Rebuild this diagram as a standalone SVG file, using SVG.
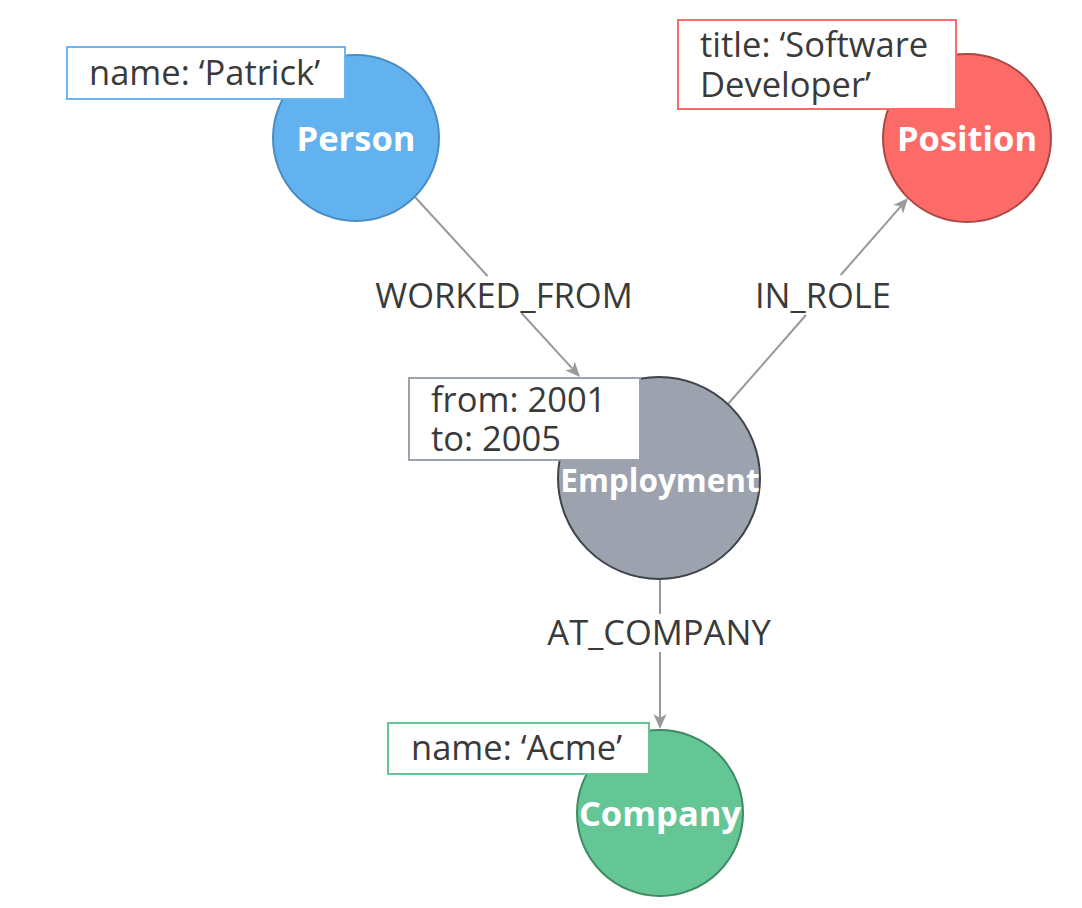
<svg xmlns="http://www.w3.org/2000/svg" width="1082" height="908" viewBox="0 0 1082 908">
<defs>
<marker id="arr" markerUnits="userSpaceOnUse" viewBox="-16 -8 17 16" markerWidth="17" markerHeight="16" refX="-11" refY="0" orient="auto">
<path d="M0,0 L-15,-6.5 L-11,0 L-15,6.5 Z" fill="#999999"/>
</marker>
</defs>
<style>
.edge{stroke:#999999;stroke-width:2;fill:none}
.elabel{font-family:"Open Sans","Noto Sans",sans-serif;font-size:34.5px;fill:#3a3a3a;text-anchor:middle}
.prop{font-family:"Open Sans","Noto Sans",sans-serif;font-size:34.5px;fill:#3a3a3a}
.nlabel{font-family:"Open Sans","Noto Sans",sans-serif;font-size:34.5px;font-weight:bold;fill:#ffffff;text-anchor:middle}
.box{fill:#ffffff;stroke-width:2}
</style>
<rect width="1082" height="908" fill="#ffffff"/>
<g id="connectors">
<g id="e-worked-from">
<line class="edge" x1="415" y1="197" x2="487.5" y2="276"/>
<line class="edge" x1="521.5" y1="313" x2="572.6" y2="368.9" marker-end="url(#arr)"/>
<text class="elabel" x="504" y="308">WORKED_FROM</text>
</g>
<g id="e-in-role">
<line class="edge" x1="728" y1="404" x2="806" y2="315"/>
<line class="edge" x1="840.7" y1="275" x2="900.8" y2="206.3" marker-end="url(#arr)"/>
<text class="elabel" x="823" y="308">IN_ROLE</text>
</g>
<g id="e-at-company">
<line class="edge" x1="660" y1="580" x2="660" y2="614"/>
<line class="edge" x1="660" y1="652" x2="660" y2="718" marker-end="url(#arr)"/>
<text class="elabel" x="659" y="645">AT_COMPANY</text>
</g>
</g>
<g id="person">
<circle cx="356" cy="138" r="83" fill="#62b2ef" stroke="#4a8cc4" stroke-width="2"/>
<text class="nlabel" x="356" y="151">Person</text>
<rect class="box" x="67" y="47" width="278" height="52" stroke="#6ab6f0"/>
<text class="prop" x="89" y="85">name: ‘Patrick’</text>
</g>
<g id="position">
<circle cx="967" cy="138" r="84" fill="#fd6b68" stroke="#ab4846" stroke-width="2"/>
<text class="nlabel" x="967" y="151">Position</text>
<rect class="box" x="678" y="20" width="278" height="89" stroke="#fd6b68"/>
<text class="prop" x="700" y="57">title: ‘Software</text>
<text class="prop" x="700" y="97">Developer’</text>
</g>
<g id="employment">
<circle cx="659" cy="478" r="101" fill="#9ca2ae" stroke="#3e434a" stroke-width="2"/>
<rect class="box" x="409" y="378" width="231" height="82" stroke="#9ca2ae"/>
<text class="prop" x="431" y="412">from: 2001</text>
<text class="prop" x="431" y="451">to: 2005</text>
<text class="nlabel" x="660" y="492" style="font-size:31.5px">Employment</text>
</g>
<g id="company">
<circle cx="660" cy="813" r="83" fill="#65c695" stroke="#3e8a62" stroke-width="2"/>
<text class="nlabel" x="660" y="826">Company</text>
<rect class="box" x="388" y="723" width="261" height="51" stroke="#65c695"/>
<text class="prop" x="411" y="760">name: ‘Acme’</text>
</g>
</svg>
